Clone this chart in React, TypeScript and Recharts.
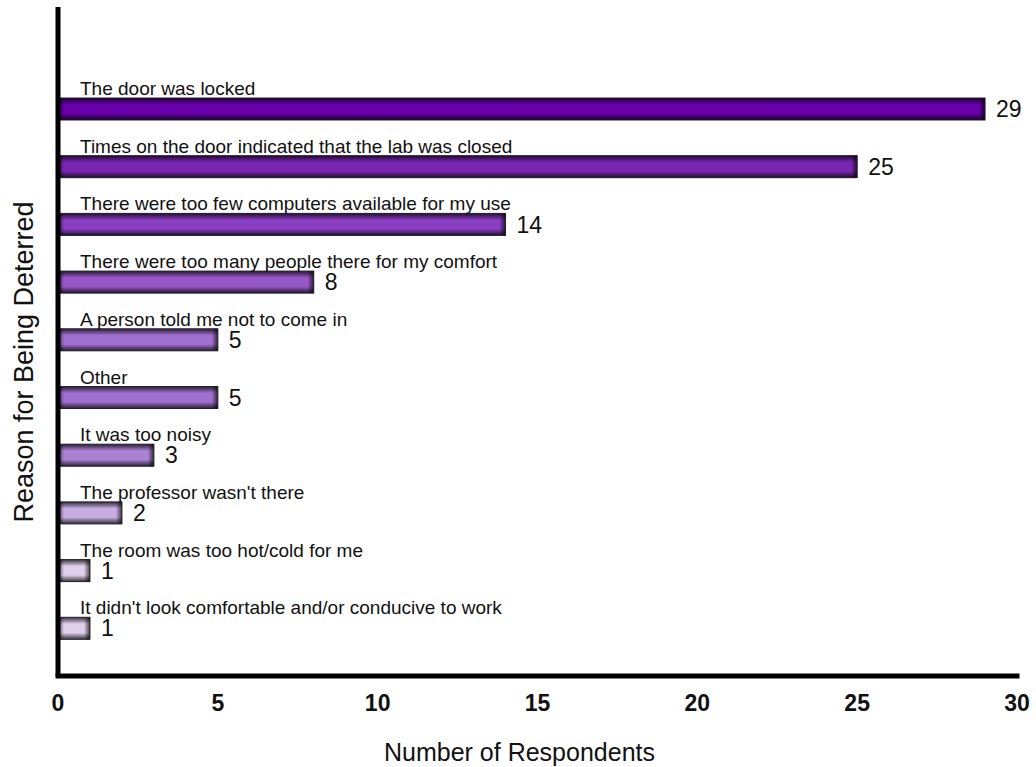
import React from "react";
import { BarChart, Bar, XAxis, YAxis, LabelList } from "recharts";

const REASONS = [
  "The door was locked",
  "Times on the door indicated that the lab was closed",
  "There were too few computers available for my use",
  "There were too many people there for my comfort",
  "A person told me not to come in",
  "Other",
  "It was too noisy",
  "The professor wasn't there",
  "The room was too hot/cold for me",
  "It didn't look comfortable and/or conducive to work",
];

const RESPONDENTS = [29, 25, 14, 8, 5, 5, 3, 2, 1, 1];

const X_TICKS = [0, 5, 10, 15, 20, 25, 30];

const BAR_COLORS = [
  "#6800ac",
  "#7a26b4",
  "#8a3ec2",
  "#9758c8",
  "#a070d0",
  "#a070d0",
  "#aa82d4",
  "#c6aee2",
  "#e0d0ec",
  "#e0d0ec",
];

const FONT = "'Liberation Sans', Arial, sans-serif";

const data = REASONS.map((label, i) => ({ label, value: RESPONDENTS[i] }));

function ShadedBar(props: any) {
  const { x, y, width, height, index } = props;
  if (!width || width <= 0) return null;
  const edge = Math.min(6, width / 2) / width;
  return (
    <g>
      <defs>
        <linearGradient id={`bv${index}`} x1="0" y1="0" x2="0" y2="1">
          <stop offset="0" stopColor="#000" stopOpacity={0.75} />
          <stop offset="0.3" stopColor="#000" stopOpacity={0} />
          <stop offset="0.7" stopColor="#000" stopOpacity={0} />
          <stop offset="1" stopColor="#000" stopOpacity={0.75} />
        </linearGradient>
        <linearGradient
          id={`bh${index}`}
          gradientUnits="userSpaceOnUse"
          x1={x}
          y1={0}
          x2={x + width}
          y2={0}
        >
          <stop offset="0" stopColor="#000" stopOpacity={0.7} />
          <stop offset={edge} stopColor="#000" stopOpacity={0} />
          <stop offset={1 - edge} stopColor="#000" stopOpacity={0} />
          <stop offset="1" stopColor="#000" stopOpacity={0.7} />
        </linearGradient>
      </defs>
      <rect x={x} y={y} width={width} height={height} fill={BAR_COLORS[index]} />
      <rect x={x} y={y} width={width} height={height} fill={`url(#bv${index})`} />
      <rect x={x} y={y} width={width} height={height} fill={`url(#bh${index})`} />
      <rect
        x={x}
        y={y}
        width={width}
        height={height}
        fill="none"
        stroke="#222"
        strokeWidth={1}
      />
    </g>
  );
}

function CategoryLabel(props: any) {
  const { x, y, value } = props;
  return (
    <text x={x + 22} y={y - 3} fontSize={19} fontFamily={FONT} fill="#111">
      {value}
    </text>
  );
}

function YTitle() {
  return (
    <text
      x={33}
      y={362}
      transform="rotate(-90 33 362)"
      textAnchor="middle"
      fontSize={27}
      fontFamily={FONT}
      fill="#111"
    >
      Reason for Being Deterred
    </text>
  );
}

export default function App() {
  return (
    <div style={{ position: "absolute", left: 0, top: 0, background: "#fff" }}>
      <BarChart
        width={1036}
        height={767}
        data={data}
        layout="vertical"
        margin={{ top: 7, right: 19, left: 0, bottom: 0 }}
      >
        <XAxis
          type="number"
          domain={[0, 30]}
          ticks={X_TICKS}
          height={91}
          tickSize={0}
          tickMargin={19}
          axisLine={{ stroke: "#000", strokeWidth: 5, strokeLinecap: "square" }}
          tick={{ fill: "#111", fontSize: 23, fontWeight: "bold", fontFamily: FONT }}
          label={{
            value: "Number of Respondents",
            position: "insideBottom",
            offset: 6,
            dx: -18,
            fontSize: 25,
            fill: "#111",
            fontFamily: FONT,
          }}
        />
        <YAxis
          type="category"
          dataKey="label"
          width={58}
          tick={false}
          tickLine={false}
          padding={{ top: 73, bottom: 19 }}
          axisLine={{ stroke: "#000", strokeWidth: 5 }}
          label={{ content: <YTitle /> }}
        />
        <Bar
          dataKey="value"
          barSize={22}
          shape={<ShadedBar />}
          isAnimationActive={false}
        >
          <LabelList dataKey="label" content={<CategoryLabel />} />
          <LabelList
            dataKey="value"
            position="right"
            offset={11}
            fontSize={23}
            fill="#111"
            fontFamily={FONT}
          />
        </Bar>
      </BarChart>
    </div>
  );
}
